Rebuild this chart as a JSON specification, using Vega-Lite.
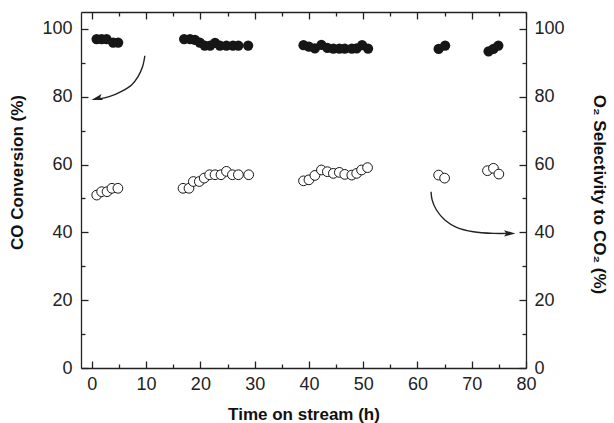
{
  "$schema": "https://vega.github.io/schema/vega-lite/v6.json",
  "width": 445,
  "height": 356,
  "autosize": {"type": "none"},
  "padding": {"left": 81, "top": 12, "right": 88, "bottom": 55},
  "background": "white",
  "config": {
    "view": {"stroke": null},
    "font": "Liberation Sans",
    "axis": {
      "grid": false,
      "domainColor": "#222222",
      "domainWidth": 1.3,
      "tickColor": "#222222",
      "tickWidth": 1.3,
      "labelFont": "Liberation Sans",
      "labelFontSize": 18,
      "labelColor": "#222222",
      "titleFont": "Liberation Sans",
      "titleFontSize": 17,
      "titleFontWeight": "bold",
      "titleColor": "#111111",
      "labelFlush": false,
      "labelOverlap": false
    }
  },
  "datasets": {
    "co": [
      {"h": 0.87, "v": 97}, {"h": 1.79, "v": 97}, {"h": 2.71, "v": 97}, {"h": 3.93, "v": 96}, {"h": 4.85, "v": 96},
      {"h": 17.0, "v": 97}, {"h": 18.1, "v": 97}, {"h": 19.0, "v": 96.8}, {"h": 19.9, "v": 96}, {"h": 20.8, "v": 95.1},
      {"h": 21.8, "v": 95.1}, {"h": 22.7, "v": 95.9}, {"h": 23.6, "v": 95.1}, {"h": 24.8, "v": 95.1}, {"h": 26.0, "v": 95.1},
      {"h": 27.0, "v": 95.1}, {"h": 28.8, "v": 95.1},
      {"h": 39.0, "v": 95.2}, {"h": 40.0, "v": 94.8}, {"h": 41.1, "v": 94.3}, {"h": 42.3, "v": 95.3}, {"h": 43.4, "v": 94.4},
      {"h": 44.5, "v": 94.2}, {"h": 45.6, "v": 94.2}, {"h": 46.6, "v": 94.2}, {"h": 47.9, "v": 94.2}, {"h": 48.8, "v": 94.3},
      {"h": 49.8, "v": 95.2}, {"h": 50.9, "v": 94.2},
      {"h": 63.9, "v": 94.1}, {"h": 65.1, "v": 95.1},
      {"h": 73.1, "v": 93.4}, {"h": 74.0, "v": 94.1}, {"h": 74.9, "v": 95.1}
    ],
    "sel": [
      {"h": 0.9, "v": 51}, {"h": 1.8, "v": 52}, {"h": 2.8, "v": 52}, {"h": 3.7, "v": 53}, {"h": 4.8, "v": 53},
      {"h": 16.8, "v": 53}, {"h": 17.9, "v": 53}, {"h": 18.7, "v": 55}, {"h": 19.8, "v": 55}, {"h": 20.7, "v": 56},
      {"h": 21.7, "v": 57}, {"h": 22.7, "v": 57}, {"h": 23.8, "v": 57}, {"h": 24.8, "v": 58}, {"h": 25.9, "v": 57},
      {"h": 27.0, "v": 57}, {"h": 28.9, "v": 57},
      {"h": 39.0, "v": 55.2}, {"h": 40.0, "v": 55.5}, {"h": 41.1, "v": 56.8}, {"h": 42.3, "v": 58.4}, {"h": 43.4, "v": 57.9},
      {"h": 44.5, "v": 57.4}, {"h": 45.6, "v": 57.7}, {"h": 46.6, "v": 57.1}, {"h": 47.9, "v": 56.9}, {"h": 48.8, "v": 57.4},
      {"h": 49.7, "v": 58.4}, {"h": 50.8, "v": 59.1},
      {"h": 63.9, "v": 56.9}, {"h": 65.0, "v": 56.0},
      {"h": 72.9, "v": 58.2}, {"h": 74.0, "v": 58.9}, {"h": 75.0, "v": 57.2}
    ],
    "arrows": [
      {"arrow": "a", "i": 0, "h": 9.77, "v": 92.1},
      {"arrow": "a", "i": 1, "h": 9.35, "v": 88.9},
      {"arrow": "a", "i": 2, "h": 8.54, "v": 86.0},
      {"arrow": "a", "i": 3, "h": 7.32, "v": 83.5},
      {"arrow": "a", "i": 4, "h": 5.47, "v": 81.6},
      {"arrow": "a", "i": 5, "h": 3.32, "v": 80.1},
      {"arrow": "a", "i": 6, "h": 1.6, "v": 79.45},
      {"arrow": "a", "i": 7, "h": 0.9, "v": 79.35},
      {"arrow": "b", "i": 0, "h": 62.5, "v": 52.0},
      {"arrow": "b", "i": 1, "h": 62.7, "v": 49.6},
      {"arrow": "b", "i": 2, "h": 63.5, "v": 46.6},
      {"arrow": "b", "i": 3, "h": 65.1, "v": 43.6},
      {"arrow": "b", "i": 4, "h": 67.2, "v": 41.5},
      {"arrow": "b", "i": 5, "h": 70.3, "v": 40.2},
      {"arrow": "b", "i": 6, "h": 74.0, "v": 39.7},
      {"arrow": "b", "i": 7, "h": 77.0, "v": 39.7}
    ],
    "heads": [
      {"arrow": "a", "h": 0.92, "v": 79.5},
      {"arrow": "b", "h": 77.0, "v": 39.7}
    ]
  },
  "layer": [
    {
      "data": {"name": "co"},
      "mark": {"type": "point", "shape": "circle", "filled": true, "size": 105, "fill": "#161616", "opacity": 1, "stroke": null},
      "encoding": {
        "x": {
          "field": "h", "type": "quantitative",
          "scale": {"domain": [-2, 80], "nice": false, "zero": false},
          "axis": {
            "orient": "bottom",
            "title": "Time on stream (h)",
            "values": [0, 5, 10, 15, 20, 25, 30, 35, 40, 45, 50, 55, 60, 65, 70, 75, 80],
            "labelExpr": "datum.value % 10 === 0 ? datum.label : ''",
            "tickSize": {"condition": {"test": "datum.value % 10 === 0", "value": -7}, "value": -4},
            "labelPadding": 14,
            "titleY": 51,
            "titleBaseline": "alphabetic"
          }
        },
        "y": {
          "field": "v", "type": "quantitative",
          "scale": {"domain": [0, 105], "nice": false, "zero": false},
          "axis": {
            "orient": "left",
            "title": "CO Conversion (%)",
            "values": [0, 10, 20, 30, 40, 50, 60, 70, 80, 90, 100],
            "labelExpr": "datum.value % 20 === 0 ? datum.label : ''",
            "tickSize": {"condition": {"test": "datum.value % 20 === 0", "value": -7}, "value": -4},
            "labelPadding": 16,
            "titleX": -64,
            "titleY": 160,
            "titleBaseline": "middle"
          }
        }
      }
    },
    {
      "data": {"name": "sel"},
      "mark": {"type": "point", "shape": "circle", "filled": false, "size": 95, "fill": "white", "fillOpacity": 1, "stroke": "#161616", "strokeWidth": 1, "opacity": 1},
      "encoding": {
        "x": {
          "field": "h", "type": "quantitative",
          "scale": {"domain": [-2, 80], "nice": false, "zero": false},
          "axis": {
            "orient": "top",
            "title": null,
            "labels": false,
            "values": [0, 5, 10, 15, 20, 25, 30, 35, 40, 45, 50, 55, 60, 65, 70, 75, 80],
            "tickSize": {"condition": {"test": "datum.value % 10 === 0", "value": -7}, "value": -4}
          }
        },
        "y": {
          "field": "v", "type": "quantitative",
          "scale": {"domain": [0, 105], "nice": false, "zero": false},
          "axis": {
            "orient": "right",
            "title": "O₂ Selectivity to CO₂ (%)",
            "values": [0, 10, 20, 30, 40, 50, 60, 70, 80, 90, 100],
            "labelExpr": "datum.value % 20 === 0 ? datum.label : ''",
            "tickSize": {"condition": {"test": "datum.value % 20 === 0", "value": -7}, "value": -4},
            "labelPadding": 15,
            "titleX": 72,
            "titleY": 182,
            "titleBaseline": "middle"
          }
        }
      }
    },
    {
      "data": {"name": "arrows"},
      "mark": {"type": "line", "interpolate": "catmull-rom", "stroke": "#222222", "strokeWidth": 1.4},
      "encoding": {
        "x": {"field": "h", "type": "quantitative", "scale": {"domain": [-2, 80], "nice": false, "zero": false}, "axis": null},
        "y": {"field": "v", "type": "quantitative", "scale": {"domain": [0, 105], "nice": false, "zero": false}, "axis": null},
        "detail": {"field": "arrow"},
        "order": {"field": "i", "type": "quantitative"}
      }
    },
    {
      "data": {"name": "heads"},
      "transform": [{"filter": "datum.arrow === 'a'"}],
      "mark": {"type": "point", "shape": "M1,0L-1,-0.55L-0.6,0L-1,0.55Z", "size": 130, "filled": true, "fill": "#222222", "stroke": null, "opacity": 1, "angle": 165},
      "encoding": {
        "x": {"field": "h", "type": "quantitative", "scale": {"domain": [-2, 80], "nice": false, "zero": false}, "axis": null},
        "y": {"field": "v", "type": "quantitative", "scale": {"domain": [0, 105], "nice": false, "zero": false}, "axis": null}
      }
    },
    {
      "data": {"name": "heads"},
      "transform": [{"filter": "datum.arrow === 'b'"}],
      "mark": {"type": "point", "shape": "M1,0L-1,-0.55L-0.6,0L-1,0.55Z", "size": 130, "filled": true, "fill": "#222222", "stroke": null, "opacity": 1, "angle": 0},
      "encoding": {
        "x": {"field": "h", "type": "quantitative", "scale": {"domain": [-2, 80], "nice": false, "zero": false}, "axis": null},
        "y": {"field": "v", "type": "quantitative", "scale": {"domain": [0, 105], "nice": false, "zero": false}, "axis": null}
      }
    }
  ]
}
